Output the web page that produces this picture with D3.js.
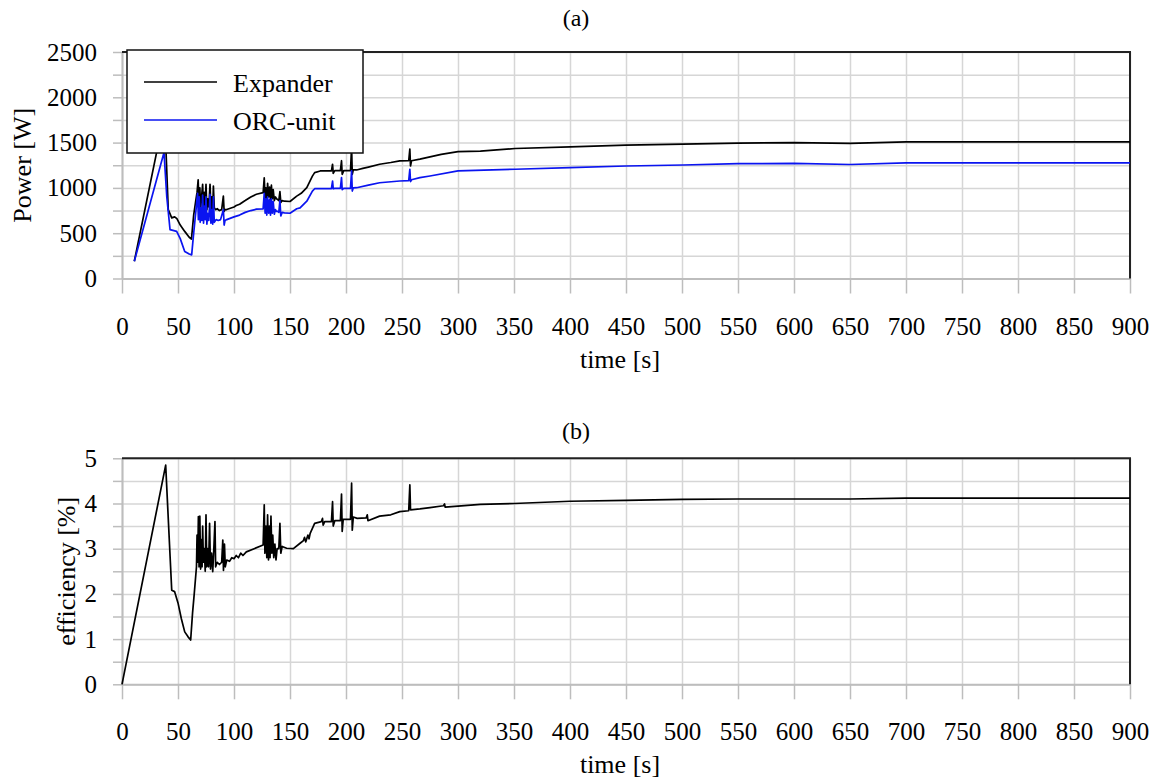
<!DOCTYPE html>
<style>
body {
  margin: 0;
  background: #fff;
  font-family: 'Liberation Serif', 'Times New Roman', serif;
}
</style>
<svg width="1153" height="780"></svg>
<script src="https://d3js.org/d3.v7.min.js"></script>
<script>
// time ticks (s)
var xTicks = d3.range(0, 901, 50);

// power panel ticks
var powerGrid = [0, 250, 500, 750, 1000, 1250, 1500, 1750, 2000, 2250, 2500];
var powerLabels = [0, 500, 1000, 1500, 2000, 2500];

// efficiency panel ticks
var effGrid = [0, 0.5, 1, 1.5, 2, 2.5, 3, 3.5, 4, 4.5, 5];
var effLabels = [0, 1, 2, 3, 4, 5];

// expander power [t, W]
var expander = [[11,190],[38,1820],[41.3,760],[44.4,669],[47,680],[49,660],[52,590],[56,520],[60,455],[62,435],
  [64,700],[66,870],[67,950],[68,1090],[68.8,800],[69.5,1000],[70.2,760],[71,900],[72,1040],[72.8,780],
  [73.5,950],[74.2,800],[75,1040],[75.8,760],[76.5,880],[77.5,790],[78.6,1040],[79.4,770],[80.2,900],
  [81,760],[81.6,1020],[82.4,780],[83.5,760],[85,770],[87,750],[89,760],[90.5,910],[91.2,740],[92,760],
  [93.5,761],[100,790],[102,805],[105,820],[108,845],[110,860],[115,900],[120,930],[126,947],
  [127,1110],[127.8,880],[128.5,1000],[129.3,860],[130,1050],[131,900],[131.8,1010],[132.6,870],
  [133.4,1030],[134.2,880],[135,980],[136,860],[137,900],[138,880],[139,870],[140,860],[141,960],
  [141.8,840],[143,860],[145,853],[150,850],[156,909],[160,940],[165,1002],[170,1130],[172,1169],
  [177,1187],[187,1187],[188,1261],[188.6,1160],[190,1190],[195,1190],[196,1300],[196.6,1150],
  [198,1190],[204,1190],[205,1450],[205.6,1150],[206.5,1200],[209.5,1198],[215,1215],[220,1230],
  [230,1261],[240,1280],[248,1298],[256,1300],[257,1428],[257.6,1242],[258.5,1300],[266,1317],
  [275,1343],[285,1370],[300,1400],[320,1405],[351,1435],[400,1453],[450,1472],[501,1483],
  [550,1494],[600,1500],[650,1491],[700,1509],[900,1509]];

// ORC-unit power [t, W]
var orcUnit = [[11,190],[37.5,1390],[40,900],[42.9,540],[48.8,520],[52,440],[56,298],[60,270],[62.2,261],
  [64,500],[66.7,835],[67.5,940],[68.2,650],[69,900],[69.8,620],[70.5,780],[71.3,640],[72,920],
  [72.8,610],[73.5,800],[74.3,650],[75,900],[75.8,600],[76.6,720],[77.5,640],[78.6,930],[79.4,610],
  [80.2,760],[81,600],[81.6,900],[82.4,620],[84,650],[86,640],[88,650],[90.5,760],[91.2,590],
  [92,640],[93.5,650],[100,680],[105,700],[110,730],[115,750],[120,765],[126,769],
  [127,940],[127.8,720],[128.5,880],[129.3,700],[130,900],[131,720],[131.8,870],[132.6,700],
  [133.4,880],[134.2,720],[135,850],[136,710],[137,760],[138,740],[139,740],[140,730],[141,860],
  [141.8,690],[143,730],[145,725],[150,720],[156,770],[159,780],[165,853],[170,965],[172,991],
  [187,991],[188,1076],[188.6,990],[190,995],[195,995],[196,1113],[196.6,980],[198,995],[204,995],
  [205,1187],[205.6,965],[206.5,1000],[209.5,1002],[220,1030],[230,1057],[248,1076],[256,1080],
  [257,1206],[257.6,1070],[258.5,1090],[266,1113],[275,1131],[300,1187],[351,1206],[400,1224],
  [450,1242],[501,1253],[550,1268],[600,1270],[650,1258],[700,1276],[900,1276]];

// efficiency [t, %]
var efficiency = [[0,0],[39,4.85],[44.4,2.08],[47,2.05],[50,1.8],[53,1.45],[56,1.16],[59,1.05],[61.3,0.98],
  [63,1.58],[64.5,2.0],[66.5,2.6],[67,3.3],[67.6,2.7],[68.2,3.71],[68.8,2.6],[69.5,3.72],[70.2,2.55],
  [70.8,3.2],[71.5,2.6],[72,3.5],[72.7,2.7],[73.5,3.0],[74.3,2.5],[75,3.75],[75.7,2.6],[76.5,3.0],
  [77.3,2.6],[78.2,3.56],[79,2.55],[80,2.9],[81,2.49],[82,3.0],[83,3.6],[83.6,2.6],[85,2.7],[87,2.65],
  [89,2.7],[90,3.19],[90.6,2.52],[91.5,3.1],[92.2,2.6],[93.5,2.75],[96,2.72],[98,2.8],[100,2.78],
  [102,2.85],[104,2.8],[106,2.9],[108,2.85],[111,2.93],[118,3.0],[126,3.08],[127,3.97],[127.6,2.9],
  [128.5,3.5],[129.3,2.8],[130,3.75],[130.8,2.75],[131.5,3.5],[132.2,2.8],[133,3.72],[133.8,2.9],
  [134.6,3.3],[135.5,2.8],[136.5,3.1],[137.5,2.75],[138.5,3.0],[140,3.0],[141,3.56],[141.8,2.9],
  [143,3.05],[147,3.01],[153,3.0],[159,3.12],[162,3.18],[163,3.25],[164,3.15],[166,3.3],[167,3.22],
  [168,3.34],[170,3.45],[172,3.56],[178,3.6],[179,3.67],[179.6,3.52],[181,3.6],[187,3.6],[188,4.04],
  [188.6,3.5],[190,3.62],[195,3.62],[196,4.21],[196.6,3.38],[197.5,3.65],[204,3.65],[205,4.45],
  [205.6,3.41],[206.5,3.7],[210,3.67],[218,3.68],[219,3.75],[219.6,3.62],[230,3.72],[240,3.75],
  [248,3.82],[256,3.84],[257,4.41],[257.6,3.86],[266,3.88],[275,3.91],[287,3.95],[288,3.99],
  [288.5,3.92],[300,3.94],[320,3.98],[350,4.0],[400,4.05],[450,4.07],[500,4.09],[550,4.1],
  [600,4.1],[650,4.1],[700,4.12],[900,4.12]];

var svg = d3.select("svg"),
    gridColor = "#d6d6d6",
    axisColor = "#bdbdbd",
    serif = "'Liberation Serif', 'Times New Roman', serif";

var x = d3.scaleLinear().domain([0, 900]).range([122, 1130]);

// draw one panel: grid, axes, frame, titles, lines
function drawPanel(top, bottom, yMax, yGrid, yLabels, caption, captionY, yTitle, yTitleX, lines) {
  var y = d3.scaleLinear().domain([0, yMax]).range([bottom, top]);
  var g = svg.append("g");

  // vertical gridlines
  g.append("g")
      .attr("transform", "translate(0," + bottom + ")")
      .call(d3.axisBottom(x).tickValues(xTicks).tickSize(-(bottom - top)).tickFormat(""))
      .call(function(a) { a.select(".domain").remove(); })
    .selectAll("line")
      .attr("stroke", gridColor)
      .attr("stroke-width", 1.5);

  // horizontal gridlines
  g.append("g")
      .attr("transform", "translate(" + x(0) + ",0)")
      .call(d3.axisLeft(y).tickValues(yGrid).tickSize(-(x(900) - x(0))).tickFormat(""))
      .call(function(a) { a.select(".domain").remove(); })
    .selectAll("line")
      .attr("stroke", gridColor)
      .attr("stroke-width", 1.5);

  // x axis with labels
  var xa = g.append("g")
      .attr("transform", "translate(0," + bottom + ")")
      .call(d3.axisBottom(x).tickValues(xTicks).tickSize(15).tickSizeOuter(0));
  xa.select(".domain").attr("stroke", axisColor).attr("stroke-width", 2);
  xa.selectAll("line").attr("stroke", axisColor).attr("stroke-width", 1.5);
  xa.selectAll("text")
      .attr("y", 56)
      .attr("dy", null)
      .attr("fill", "#000")
      .attr("font-family", serif)
      .attr("font-size", 25);

  // y axis with labels
  var ya = g.append("g")
      .attr("transform", "translate(" + x(0) + ",0)")
      .call(d3.axisLeft(y).tickValues(yGrid).tickSize(9).tickSizeOuter(0)
        .tickFormat(function(d) { return yLabels.indexOf(d) >= 0 ? d : ""; }));
  ya.select(".domain").attr("stroke", axisColor).attr("stroke-width", 2);
  ya.selectAll("line").attr("stroke", axisColor).attr("stroke-width", 1.5);
  ya.selectAll("text")
      .attr("x", -25)
      .attr("fill", "#000")
      .attr("font-family", serif)
      .attr("font-size", 25);

  // black frame on top and right
  g.append("path")
      .attr("d", "M" + x(0) + "," + top + "H" + x(900) + "V" + bottom)
      .attr("fill", "none")
      .attr("stroke", "#222")
      .attr("stroke-width", 2);

  // data lines
  var line = d3.line()
      .x(function(d) { return x(d[0]); })
      .y(function(d) { return y(d[1]); });

  lines.forEach(function(s) {
    g.append("path")
        .datum(s.data)
        .attr("fill", "none")
        .attr("stroke", s.color)
        .attr("stroke-width", 1.7)
        .attr("stroke-linejoin", "round")
        .attr("d", line);
  });

  // titles
  g.append("text")
      .attr("x", 576)
      .attr("y", captionY)
      .attr("text-anchor", "middle")
      .attr("font-family", serif)
      .attr("font-size", 24)
      .text(caption);

  g.append("text")
      .attr("x", 620)
      .attr("y", bottom + 89)
      .attr("text-anchor", "middle")
      .attr("font-family", serif)
      .attr("font-size", 26)
      .text("time [s]");

  g.append("text")
      .attr("transform", "translate(" + yTitleX + "," + ((top + bottom) / 2) + ") rotate(-90)")
      .attr("text-anchor", "middle")
      .attr("font-family", serif)
      .attr("font-size", 26)
      .text(yTitle);
}

drawPanel(52, 278.5, 2500, powerGrid, powerLabels, "(a)", 26, "Power [W]", 31, [
  {data: expander, color: "#000"},
  {data: orcUnit, color: "#0a14f0"}
]);

drawPanel(458.3, 684.3, 5, effGrid, effLabels, "(b)", 439, "efficiency [%]", 75, [
  {data: efficiency, color: "#000"}
]);

// legend over the top panel
var legendItems = ["Expander", "ORC-unit"],
    legendColors = ["#000", "#0a14f0"];

var legend = svg.append("g").attr("transform", "translate(127,50)");

legend.append("rect")
    .attr("width", 236)
    .attr("height", 103)
    .attr("fill", "#fff")
    .attr("stroke", "#111")
    .attr("stroke-width", 1.5);

var entry = legend.selectAll(".entry")
    .data(legendItems)
    .enter().append("g")
      .attr("transform", function(d, i) { return "translate(0," + (32 + i * 38) + ")"; });

entry.append("line")
    .attr("x1", 17)
    .attr("x2", 90)
    .attr("stroke", function(d, i) { return legendColors[i]; })
    .attr("stroke-width", 1.7);

entry.append("text")
    .attr("x", 106)
    .attr("y", 10)
    .attr("font-family", serif)
    .attr("font-size", 26)
    .text(function(d) { return d; });
</script>
